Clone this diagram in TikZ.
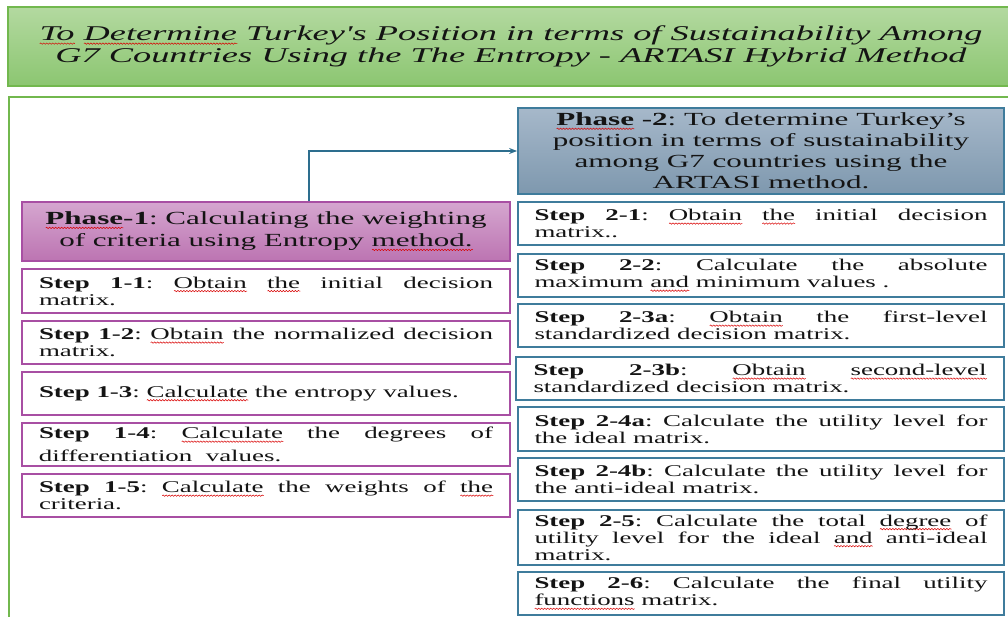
\documentclass[tikz,border=0pt]{standalone}
\usepackage{fontspec}
\setmainfont{Liberation Serif}
\newfontfamily\stepfont[FakeStretch=1.64]{Liberation Serif}
\newfontfamily\phasefont[FakeStretch=1.68]{Liberation Serif}
\newfontfamily\titlefont[FakeStretch=1.73]{Liberation Serif}
\usetikzlibrary{arrows.meta,decorations.pathmorphing}
\hyphenpenalty=10000
\exhyphenpenalty=10000
\frenchspacing
\newsavebox\splbox
\newcommand\spl[1]{\sbox\splbox{#1}\leavevmode\rlap{\raisebox{-3pt}{\tikz[baseline=(0:0pt)]{\draw[red!85!black, line width=0.5pt, decorate, decoration={snake, amplitude=0.7pt, segment length=3pt}] (0pt,0pt) -- (\wd\splbox,0pt);}}}\usebox\splbox}
\definecolor{titletop}{HTML}{B3D9A0}
\definecolor{titlebot}{HTML}{8CC671}
\definecolor{greenline}{HTML}{72B84E}
\definecolor{p1top}{HTML}{D5A6CF}
\definecolor{p1bot}{HTML}{BC74B2}
\definecolor{purpline}{HTML}{A84FA3}
\definecolor{p2top}{HTML}{A6B8CA}
\definecolor{p2bot}{HTML}{7E98AE}
\definecolor{blueline}{HTML}{3F7C9C}
\definecolor{arrowc}{HTML}{2D6E8E}
\definecolor{txt}{HTML}{141414}
\tikzset{
  base/.style={rectangle, inner sep=0pt, text=txt},
  titlebox/.style={base, draw=greenline, line width=1.2pt, top color=titletop, bottom color=titlebot,
    minimum width=1006pt, minimum height=79pt, align=center,
    font=\titlefont\itshape\fontsize{21}{22}\selectfont},
  phaseone/.style={base, draw=purpline, line width=1.5pt, top color=p1top, bottom color=p1bot,
    minimum width=488pt, minimum height=59pt, align=center,
    font=\phasefont\fontsize{18.5}{22}\selectfont},
  phasetwo/.style={base, draw=blueline, line width=1.8pt, top color=p2top, bottom color=p2bot,
    minimum width=486pt, minimum height=86pt, align=center,
    font=\phasefont\fontsize{18.5}{21}\selectfont},
  stepL/.style={base, draw=purpline, line width=1.5pt, fill=white, minimum width=488pt,
    text width=454pt, align=justify, font=\stepfont\fontsize{16.4}{17}\selectfont},
  stepR/.style={base, draw=blueline, line width=1.8pt, fill=white, minimum width=486pt,
    text width=453pt, align=justify, font=\stepfont\fontsize{16.4}{17}\selectfont},
  conn/.style={draw=arrowc, line width=1.5pt, -{Stealth[length=8pt,width=6pt]}},
}
\begin{document}
\begin{tikzpicture}[x=1pt,y=-1pt]
\useasboundingbox (0,0) rectangle (1008,617);
\begin{scope}
\clip (0,0) rectangle (1008,617);
\draw[greenline, line width=1.5pt] (9,97) rectangle (1030,650);
\node[titlebox] (title) at (511,46.5) {\spl{To} \spl{Determine} Turkey's Position in terms of Sustainability Among\\G7 Countries Using the The Entropy - ARTASI Hybrid Method};
\end{scope}

\node[phaseone] (p1) at (266,231.5) {\textbf{\spl{Phase}-1}: Calculating the weighting\\of criteria using Entropy \spl{method.}};
\node[phasetwo] (p2) at (761,151) {\textbf{\spl{Phase} -2}: To determine Turkey’s\\position in terms of sustainability\\among G7 countries using the\\ARTASI method.};

\node[stepL, minimum height=44pt] (s11) at (266,291) {\textbf{Step 1-1}: \spl{Obtain} \spl{the} initial decision\linebreak matrix.};
\node[stepL, minimum height=43pt] (s12) at (266,342.5) {\textbf{Step 1-2}: \spl{Obtain} the normalized decision\linebreak matrix.};
\node[stepL, minimum height=43pt] (s13) at (266,393.5) {\textbf{Step 1-3}: \spl{Calculate} the entropy values.};
\node[stepL, minimum height=43pt, font=\stepfont\fontsize{16.4}{23}\selectfont] (s14) at (266,444.5) {\textbf{Step 1-4}: \spl{Calculate} the degrees of\linebreak differentiation\ \ values.};
\node[stepL, minimum height=43pt] (s15) at (266,495.5) {\textbf{Step 1-5}: \spl{Calculate} the weights of \spl{the}\linebreak criteria.};

\node[stepR, minimum height=43pt] (s21) at (761,223.5) {\textbf{Step 2-1}: \spl{Obtain} \spl{the} initial decision\linebreak matrix..};
\node[stepR, minimum height=43pt] (s22) at (761,275.5) {\textbf{Step 2-2}: Calculate the absolute\linebreak maximum \spl{and} minimum values .};
\node[stepR, minimum height=43pt] (s23a) at (761,325.5) {\textbf{Step 2-3a}: \spl{Obtain} the first-level\linebreak standardized decision matrix.};
\node[stepR, minimum height=43pt, minimum width=488pt] (s23b) at (760,378.5) {\textbf{Step 2-3b}: \spl{Obtain} \spl{second-level}\linebreak standardized decision matrix.};
\node[stepR, minimum height=44pt] (s24a) at (761,429) {\textbf{Step 2-4a}: Calculate the utility level for\linebreak the ideal matrix.};
\node[stepR, minimum height=43pt] (s24b) at (761,479.5) {\textbf{Step 2-4b}: Calculate the utility level for\linebreak the anti-ideal matrix.};
\node[stepR, minimum height=55pt] (s25) at (761,537.5) {\textbf{Step 2-5}: Calculate the total \spl{degree} of\linebreak utility level for the ideal \spl{and} anti-ideal\linebreak matrix.};
\node[stepR, minimum height=43pt] (s26) at (761,593.5) {\textbf{Step 2-6}: Calculate the final utility\linebreak \spl{functions} matrix.};

\draw[conn] ([xshift=43pt]p1.north) |- (p2.west);
\end{tikzpicture}
\end{document}
